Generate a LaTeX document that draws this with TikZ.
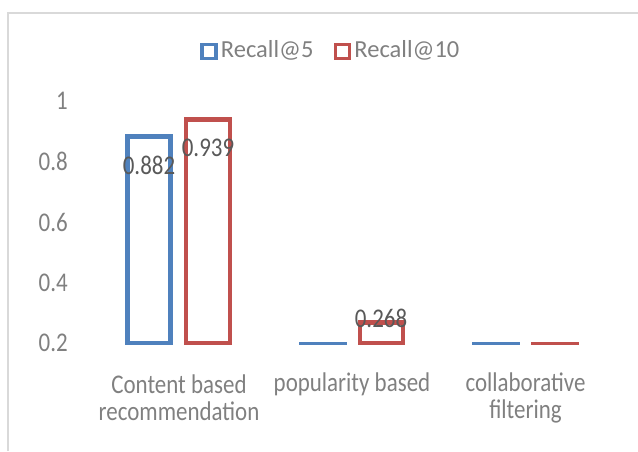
\documentclass[tikz,border=0pt]{standalone}
\usepackage{fontspec}
\setmainfont{Carlito}
\newfontfamily\chartfont{Carlito}[FakeStretch=0.85]
\usetikzlibrary{positioning}

\definecolor{recallblue}{HTML}{4F81BD}
\definecolor{recallred}{HTML}{C0504D}
\definecolor{framegray}{HTML}{D9D9D9}
\definecolor{labelgray}{HTML}{808080}
\definecolor{valuegray}{HTML}{595959}

% value -> height on the plot
\newcommand{\valy}[1]{108+(#1-0.2)*302.5}

\tikzset{
  barfive/.style={draw=recallblue, line width=4.5pt},
  barten/.style={draw=recallred, line width=4.5pt},
  flatfive/.style={draw=recallblue, line width=3pt},
  flatten/.style={draw=recallred, line width=3pt},
  keyfive/.style={draw=recallblue, line width=3.5pt, minimum size=14pt, inner sep=0pt},
  keyten/.style={draw=recallred, line width=3.5pt, minimum size=14pt, inner sep=0pt},
  keytext/.style={text=labelgray, font=\fontsize{24.5}{28}\selectfont, inner sep=0pt, anchor=west},
  ticklabel/.style={text=labelgray, font=\chartfont\fontsize{27}{30}\selectfont, inner sep=0pt, anchor=east},
  catlabel/.style={text=labelgray, font=\chartfont\fontsize{27}{27}\selectfont, inner sep=0pt, align=center},
  valuelabel/.style={text=valuegray, font=\chartfont\fontsize{27}{30}\selectfont, inner sep=0pt}
}

\begin{document}
\begin{tikzpicture}[x=1pt, y=1pt]
  \useasboundingbox (0,0) rectangle (638,451);

  % Chart frame
  \draw[framegray, line width=1.5pt] (8,0) -- (8,438) -- (638,438);

  % Legend
  \node[keyfive] (keyfive) at (209,399.5) {};
  \node[keytext, right=3pt of keyfive, yshift=1pt] (textfive) {Recall@5};
  \node[keyten] (keyten) at (342.5,399.5) {};
  \node[keytext, right=3pt of keyten, yshift=1pt] (textten) {Recall@10};

  % Value axis
  \foreach \v [count=\i] in {0.2,0.4,0.6,0.8,1}
    \node[ticklabel] (tick\i) at (68,{\valy{\v}}) {\v};

  % Bars
  \draw[barfive] (127.5,108) rectangle (170.5,{\valy{0.882}});
  \draw[barten] (186,108) rectangle (230,{\valy{0.939}});
  \draw[flatfive] (299,108) -- (347,108);
  \draw[barten] (360,108) rectangle (403,{\valy{0.268}});
  \draw[flatfive] (472,108) -- (520,108);
  \draw[flatten] (531,108) -- (579,108);

  % Data labels
  \node[valuelabel] (val1) at (149,286) {0.882};
  \node[valuelabel] (val2) at (208,303) {0.939};
  \node[valuelabel] (val3) at (381,133) {0.268};

  % Categories
  \node[catlabel] (cat1) at (179,53) {Content based\\recommendation};
  \node[catlabel] (cat2) at (352,67) {popularity based};
  \node[catlabel] (cat3) at (525.5,53) {collaborative\\filtering};
\end{tikzpicture}
\end{document}
